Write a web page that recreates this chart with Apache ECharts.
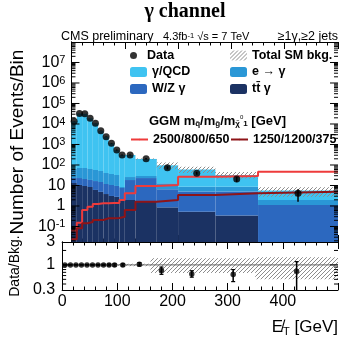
<!DOCTYPE html>
<html>
<head>
<meta charset="utf-8">
<script src="https://cdn.jsdelivr.net/npm/echarts@6/dist/echarts.min.js"></script>
<style>
html, body { margin: 0; padding: 0; background: #fff; }
#chart { width: 342px; height: 337px; }
</style>
</head>
<body>
<div id="chart"></div>
<script>
// Missing transverse energy binning [GeV]
const binEdges = [0, 10, 20, 30, 40, 50, 60, 70, 80, 90, 100, 120, 160, 200, 270, 350, 500];
const binCenters = [5, 15, 25, 35, 45, 55, 65, 75, 85, 95, 110, 140, 180, 235, 310, 425];

// Observed events per bin and their uncertainties
const dataCounts = [13490, 32500, 31430, 18960, 10800, 4710, 2400, 1144, 539, 308, 308, 203, 74, 39, 20.6, 4.13];
const dataErrDown = [116, 180, 177, 138, 104, 69, 49, 34, 23, 17.5, 17.5, 16.7, 12.8, 5.6, 6.0, 2.54];
const dataErrUp = [116, 180, 177, 138, 104, 69, 49, 34, 23, 17.5, 17.5, 16.7, 12.8, 6.5, 5.4, 2.45];

// Background estimates, stacked from bottom (tt gamma) to top (gamma/QCD)
const ttGamma = [13.2, 10.6, 9.44, 8.42, 6.06, 4.87, 3.83, 3.08, 2.78, 2.18, 1.96, 1.57, 0.86, 0.53, 0.34, 0.005];
const wzGamma = [9.9, 12.5, 11.3, 10.2, 10.4, 9.9, 8.0, 7.5, 6.7, 5.35, 16.5, 21.5, 5.7, 4.54, 4.7, 1.1];
const eToGamma = [40.7, 48.2, 50.6, 45.2, 40.5, 36.2, 28.9, 25.8, 23.1, 0.9, 7.4, 6.0, 6.3, 3.7, 3.7, 0.85];
const gammaQCD = [13425, 32430, 31360, 18900, 10740, 4660, 2360, 1108, 506, 300, 282, 168, 83.4, 51.4, 23.8, 3.67];

// Relative systematic uncertainty on the total background
const bkgUncUp = [0.02, 0.02, 0.02, 0.02, 0.02, 0.02, 0.02, 0.02, 0.02, 0.02, 0.04, 0.06, 0.38, 0.38, 0.38, 0.45];
const bkgUncDown = [0.02, 0.02, 0.02, 0.02, 0.02, 0.02, 0.02, 0.02, 0.02, 0.02, 0.04, 0.06, 0.32, 0.32, 0.32, 0.5];

// GGM signal points (squark/gluino/neutralino masses)
const sig2500 = [0.0645, 0.153, 0.641, 0.921, 1.246, 1.353, 1.353, 1.40, 1.415, 1.96, 4.13, 9.44, 10.6, 26.8, 29.1, 47.1];
const sig1250 = [0.0237, 0.081, 0.143, 0.166, 0.208, 0.208, 0.251, 0.251, 0.259, 0.30, 0.641, 1.615, 1.96, 3.44, 4.16, 4.98];

// Axis ranges and tick labels
const xTickLabels = [0, 100, 200, 300, 400];
const yTickLabels = [0.1, 1, 10, 100, 1e3, 1e4, 1e5, 1e6, 1e7];
const ratioLabels = [0.3, 1, 3];
const Y_MIN = 0.0175, Y_MAX = 1e8;
const R_MIN = 0.3, R_MAX = 3;

const COLORS = {
  qcd: '#3fc3f1',
  ele: '#2a97d6',
  wz: '#2c68bf',
  tt: '#1b3263',
  sigA: '#ee3b3b',
  sigB: '#8e1418'
};
const FONT = '"Liberation Sans", Arial, sans-serif';

// ---- derived tables ----
const totalBkg = binCenters.map((_, i) => ttGamma[i] + wzGamma[i] + eToGamma[i] + gammaQCD[i]);

const layers = [ttGamma, wzGamma, eToGamma, gammaQCD];
const layerItems = [];
let cum = binCenters.map(() => 0);
layers.forEach(layer => {
  layerItems.push(layer.map((v, i) => [binEdges[i], binEdges[i + 1], cum[i], cum[i] + v]));
  cum = cum.map((c, i) => c + layer[i]);
});

const bandMain = totalBkg.map((t, i) => [binEdges[i], binEdges[i + 1], t * (1 - bkgUncDown[i]), t * (1 + bkgUncUp[i])]);
const bandRatio = totalBkg.map((t, i) => [binEdges[i], binEdges[i + 1], 1 - bkgUncDown[i], 1 + bkgUncUp[i]]);

const dataPoints = binCenters.map((x, i) => [x, dataCounts[i]]);
const dataErrors = binCenters.map((x, i) => [x, dataCounts[i] - dataErrDown[i], dataCounts[i] + dataErrUp[i]]);
const ratioPoints = binCenters.map((x, i) => [x, dataCounts[i] / totalBkg[i]]);
const ratioErrors = binCenters.map((x, i) => [x, (dataCounts[i] - dataErrDown[i]) / totalBkg[i], (dataCounts[i] + dataErrUp[i]) / totalBkg[i]]);

function stepLine(values) {
  const pts = values.map((v, i) => [binEdges[i], v]);
  pts.push([binEdges[binEdges.length - 1], values[values.length - 1]]);
  return pts;
}

// log-axis tick positions (decades and 2..9 subdivisions)
const mainMajorTicks = [];
const mainMinorTicks = [];
for (let e = -2; e <= 7; e++) {
  if (e > -2) mainMajorTicks.push([0, Math.pow(10, e), 8]);
  for (let k = 2; k <= 9; k++) mainMinorTicks.push([0, k * Math.pow(10, e), 4]);
}
const ratioTicks = [[0, 1, 8], [0, 0.4, 4], [0, 0.5, 4], [0, 0.6, 4], [0, 0.7, 4], [0, 0.8, 4], [0, 0.9, 4], [0, 2, 4]];

// diagonal hatch fill
function makeHatch(color) {
  const c = document.createElement('canvas');
  c.width = 4; c.height = 4;
  const g = c.getContext('2d');
  g.strokeStyle = color;
  g.lineWidth = 1;
  g.beginPath();
  g.moveTo(0, 4); g.lineTo(4, 0);
  g.moveTo(-1, 1); g.lineTo(1, -1);
  g.moveTo(3, 5); g.lineTo(5, 3);
  g.stroke();
  return c;
}
const hatch = { image: makeHatch('#8c8c8c'), repeat: 'repeat' };

function rectRenderer(yMin, fill) {
  return function (params, api) {
    const lo = Math.max(api.value(2), yMin);
    const hi = api.value(3);
    if (!(hi > lo)) return null;
    const a = api.coord([api.value(0), hi]);
    const b = api.coord([api.value(1), lo]);
    return {
      type: 'rect',
      shape: { x: a[0], y: a[1], width: b[0] - a[0], height: b[1] - a[1] },
      style: { fill: fill }
    };
  };
}

function errorRenderer(yMin, cap) {
  return function (params, api) {
    const x = api.value(0);
    const lo = Math.max(api.value(1), yMin);
    const hi = api.value(2);
    const a = api.coord([x, hi]);
    const b = api.coord([x, lo]);
    const children = [{ type: 'line', shape: { x1: a[0], y1: a[1], x2: b[0], y2: b[1] }, style: { stroke: '#000', lineWidth: 1.5 } }];
    if (cap) {
      children.push({ type: 'line', shape: { x1: a[0] - cap, y1: a[1], x2: a[0] + cap, y2: a[1] }, style: { stroke: '#000', lineWidth: 1.2 } });
      if (api.value(1) > yMin) children.push({ type: 'line', shape: { x1: b[0] - cap, y1: b[1], x2: b[0] + cap, y2: b[1] }, style: { stroke: '#000', lineWidth: 1.2 } });
    }
    return { type: 'group', children: children };
  };
}

function tickRenderer(params, api) {
  const v = api.value(1), len = api.value(2);
  const l = api.coord([0, v]);
  const r = api.coord([500, v]);
  return {
    type: 'group',
    children: [
      { type: 'line', shape: { x1: l[0], y1: l[1], x2: l[0] + len, y2: l[1] }, style: { stroke: '#000', lineWidth: 1 } },
      { type: 'line', shape: { x1: r[0], y1: r[1], x2: r[0] - len, y2: r[1] }, style: { stroke: '#000', lineWidth: 1 } }
    ]
  };
}

function powerLabel(v) {
  const e = Math.round(Math.log10(v));
  if (e === 0) return '{b|1}';
  if (e === 1) return '{b|10}';
  return '{b|10}{s|' + e + '}';
}

const axisLineStyle = { show: true, lineStyle: { color: '#000', width: 1 } };

function xAxisCfg(grid, pos, labels) {
  return {
    type: 'value', gridIndex: grid, position: pos, min: 0, max: 500, interval: 100,
    axisLine: axisLineStyle,
    axisTick: { show: true, inside: true, length: 7, lineStyle: { color: '#000' } },
    minorTick: { show: true, splitNumber: 5, length: 3.5, lineStyle: { color: '#000' } },
    splitLine: { show: false },
    axisLabel: labels ? {
      show: true, margin: 4, fontSize: 16, color: '#000', fontFamily: FONT,
      showMaxLabel: false,
      formatter: v => (xTickLabels.indexOf(v) >= 0 ? String(v) : '')
    } : { show: false }
  };
}

const chart = echarts.init(document.getElementById('chart'), null, { renderer: 'canvas' });

const legendText = { fontFamily: FONT, fontWeight: 'bold', fontSize: 12.5, color: '#000' };
function legendAt(name, left, centerY, extra) {
  return Object.assign({
    data: [name], left: left, top: centerY - 8, padding: 0, itemGap: 0,
    itemWidth: 17, itemHeight: 10, selectedMode: false,
    textStyle: legendText
  }, extra || {});
}

chart.setOption({
  animation: false,
  backgroundColor: '#fff',
  grid: [
    { left: 61, top: 42, width: 277, height: 200 },
    { left: 61, top: 242, width: 277, height: 48 }
  ],
  xAxis: [
    xAxisCfg(0, 'bottom', false),
    xAxisCfg(0, 'top', false),
    Object.assign(xAxisCfg(1, 'bottom', true), {
      name: '{a|E\u0338}{t|T}{a| [GeV]}',
      nameLocation: 'end',
      nameGap: 0,
      nameTextStyle: {
        align: 'right', verticalAlign: 'top', padding: [28, 0, 0, 0],
        rich: {
          a: { fontSize: 17, fontFamily: FONT, color: '#000' },
          t: { fontSize: 11, fontFamily: FONT, color: '#000', verticalAlign: 'bottom', padding: [8, 0, 0, 0] }
        }
      }
    }),
    xAxisCfg(1, 'top', false)
  ],
  yAxis: [
    {
      type: 'log', gridIndex: 0, min: Y_MIN, max: Y_MAX, position: 'left',
      axisLine: axisLineStyle, axisTick: { show: false }, splitLine: { show: false },
      axisLabel: {
        show: true, margin: 6, customValues: yTickLabels, formatter: powerLabel,
        rich: {
          b: { fontSize: 16, fontFamily: FONT, color: '#000' },
          s: { fontSize: 11, fontFamily: FONT, color: '#000', verticalAlign: 'top' }
        }
      },
      name: 'Number of Events/Bin', nameLocation: 'middle', nameRotate: 90, nameGap: 30,
      nameTextStyle: { fontSize: 19, fontFamily: FONT, color: '#000' }
    },
    {
      type: 'log', gridIndex: 0, min: Y_MIN, max: Y_MAX, position: 'right',
      axisLine: axisLineStyle, axisTick: { show: false }, splitLine: { show: false }, axisLabel: { show: false }
    },
    {
      type: 'log', gridIndex: 1, min: R_MIN, max: R_MAX, position: 'left',
      axisLine: axisLineStyle, axisTick: { show: false }, splitLine: { show: false },
      axisLabel: {
        show: true, margin: 7, fontSize: 16, fontFamily: FONT, color: '#000',
        customValues: ratioLabels,
        formatter: v => (Math.abs(v - 0.3) < 1e-6 ? '0.3' : String(Math.round(v)))
      },
      name: 'Data/Bkg.', nameLocation: 'middle', nameRotate: 90, nameGap: 38,
      nameTextStyle: { fontSize: 14, fontFamily: FONT, color: '#000' }
    },
    {
      type: 'log', gridIndex: 1, min: R_MIN, max: R_MAX, position: 'right',
      axisLine: axisLineStyle, axisTick: { show: false }, splitLine: { show: false }, axisLabel: { show: false }
    }
  ],
  legend: [
    legendAt('Data', 130, 57, { itemHeight: 7 }),
    legendAt('Total SM bkg.', 230, 57),
    legendAt('\u03b3/QCD', 130, 73.5),
    legendAt('e \u2192 \u03b3', 230, 73.5),
    legendAt('W/Z \u03b3', 130, 90.5),
    legendAt('tt\u0304 \u03b3', 230, 90.5),
    legendAt('2500/800/650', 130, 141, { itemHeight: 2 }),
    legendAt('1250/1200/375', 230, 141, { itemHeight: 2 })
  ],
  graphic: [
    { type: 'text', x: 185, y: 12, style: { text: '\u03b3 channel', font: 'bold 20px "Liberation Serif", serif', fill: '#000', align: 'center', verticalAlign: 'middle' } },
    { type: 'text', x: 61, y: 37, style: { text: 'CMS preliminary', font: '12.5px ' + FONT, fill: '#000', align: 'left', verticalAlign: 'middle' } },
    {
      type: 'text', x: 163, y: 37,
      style: {
        text: '{n|4.3fb}{s|-1}{n| \u221as = 7 TeV}', align: 'left', verticalAlign: 'middle',
        rich: {
          n: { fontSize: 11, fontFamily: FONT, fill: '#000' },
          s: { fontSize: 7.5, fontFamily: FONT, fill: '#000', verticalAlign: 'top' }
        }
      }
    },
    { type: 'text', x: 338, y: 37, style: { text: '\u22651\u03b3,\u22652 jets', font: '12.5px ' + FONT, fill: '#000', align: 'right', verticalAlign: 'middle' } },
    {
      type: 'text', x: 149, y: 121,
      style: {
        text: '{n|GGM m}{s|q\u0303}{n|/m}{s|g\u0303}{n|/m}{s|\u03c7\u0303}{u|0}{s|1}{n| [GeV]}',
        align: 'left', verticalAlign: 'middle',
        rich: {
          n: { fontSize: 13, fontWeight: 'bold', fontFamily: FONT, fill: '#000' },
          s: { fontSize: 8, fontWeight: 'bold', fontFamily: FONT, fill: '#000', verticalAlign: 'bottom' },
          u: { fontSize: 6, fontFamily: FONT, fill: '#000', verticalAlign: 'top' }
        }
      }
    }
  ],
  series: [
    // stacked backgrounds
    { type: 'custom', name: 'tt\u0304 \u03b3', xAxisIndex: 0, yAxisIndex: 0, data: layerItems[0], encode: { x: [0, 1], y: [2, 3] }, renderItem: rectRenderer(Y_MIN, COLORS.tt), itemStyle: { color: COLORS.tt }, clip: true, z: 1 },
    { type: 'custom', name: 'W/Z \u03b3', xAxisIndex: 0, yAxisIndex: 0, data: layerItems[1], encode: { x: [0, 1], y: [2, 3] }, renderItem: rectRenderer(Y_MIN, COLORS.wz), itemStyle: { color: COLORS.wz }, clip: true, z: 1 },
    { type: 'custom', name: 'e \u2192 \u03b3', xAxisIndex: 0, yAxisIndex: 0, data: layerItems[2], encode: { x: [0, 1], y: [2, 3] }, renderItem: rectRenderer(Y_MIN, COLORS.ele), itemStyle: { color: COLORS.ele }, clip: true, z: 1 },
    { type: 'custom', name: '\u03b3/QCD', xAxisIndex: 0, yAxisIndex: 0, data: layerItems[3], encode: { x: [0, 1], y: [2, 3] }, renderItem: rectRenderer(Y_MIN, COLORS.qcd), itemStyle: { color: COLORS.qcd }, clip: true, z: 1 },
    // background uncertainty
    { type: 'custom', name: 'Total SM bkg.', xAxisIndex: 0, yAxisIndex: 0, data: bandMain, encode: { x: [0, 1], y: [2, 3] }, renderItem: rectRenderer(Y_MIN, hatch), itemStyle: { color: hatch }, clip: true, z: 2 },
    // signal
    { type: 'line', name: '2500/800/650', xAxisIndex: 0, yAxisIndex: 0, data: stepLine(sig2500), step: 'end', symbol: 'none', color: COLORS.sigA, lineStyle: { color: COLORS.sigA, width: 2 }, itemStyle: { color: COLORS.sigA }, clip: true, z: 3 },
    { type: 'line', name: '1250/1200/375', xAxisIndex: 0, yAxisIndex: 0, data: stepLine(sig1250), step: 'end', symbol: 'none', color: COLORS.sigB, lineStyle: { color: COLORS.sigB, width: 2 }, itemStyle: { color: COLORS.sigB }, clip: true, z: 3 },
    // data
    { type: 'custom', name: 'Data errors', xAxisIndex: 0, yAxisIndex: 0, data: dataErrors, encode: { x: 0, y: [1, 2] }, renderItem: errorRenderer(Y_MIN, 0), clip: true, z: 4 },
    { type: 'scatter', name: 'Data', xAxisIndex: 0, yAxisIndex: 0, data: dataPoints, symbol: 'circle', symbolSize: 7, itemStyle: { color: '#000' }, z: 5 },
    // y ticks of the upper panel
    { type: 'custom', name: 'major ticks', xAxisIndex: 0, yAxisIndex: 0, data: mainMajorTicks, encode: { x: 0, y: 1 }, renderItem: tickRenderer, z: 6, silent: true },
    { type: 'custom', name: 'minor ticks', xAxisIndex: 0, yAxisIndex: 0, data: mainMinorTicks, encode: { x: 0, y: 1 }, renderItem: tickRenderer, z: 6, silent: true },
    // ratio panel
    { type: 'custom', name: 'Bkg. uncertainty', xAxisIndex: 2, yAxisIndex: 2, data: bandRatio, encode: { x: [0, 1], y: [2, 3] }, renderItem: rectRenderer(R_MIN, hatch), clip: true, z: 2 },
    { type: 'line', name: 'unity', xAxisIndex: 2, yAxisIndex: 2, data: [[0, 1], [500, 1]], symbol: 'none', lineStyle: { color: '#666', width: 1 }, z: 3 },
    { type: 'custom', name: 'Ratio errors', xAxisIndex: 2, yAxisIndex: 2, data: ratioErrors, encode: { x: 0, y: [1, 2] }, renderItem: errorRenderer(R_MIN, 2), clip: true, z: 4 },
    { type: 'scatter', name: 'Data/Bkg.', xAxisIndex: 2, yAxisIndex: 2, data: ratioPoints, symbol: 'circle', symbolSize: 5.5, itemStyle: { color: '#000' }, z: 5 },
    { type: 'custom', name: 'ratio ticks', xAxisIndex: 2, yAxisIndex: 2, data: ratioTicks, encode: { x: 0, y: 1 }, renderItem: tickRenderer, z: 6, silent: true }
  ]
});
</script>
</body>
</html>
